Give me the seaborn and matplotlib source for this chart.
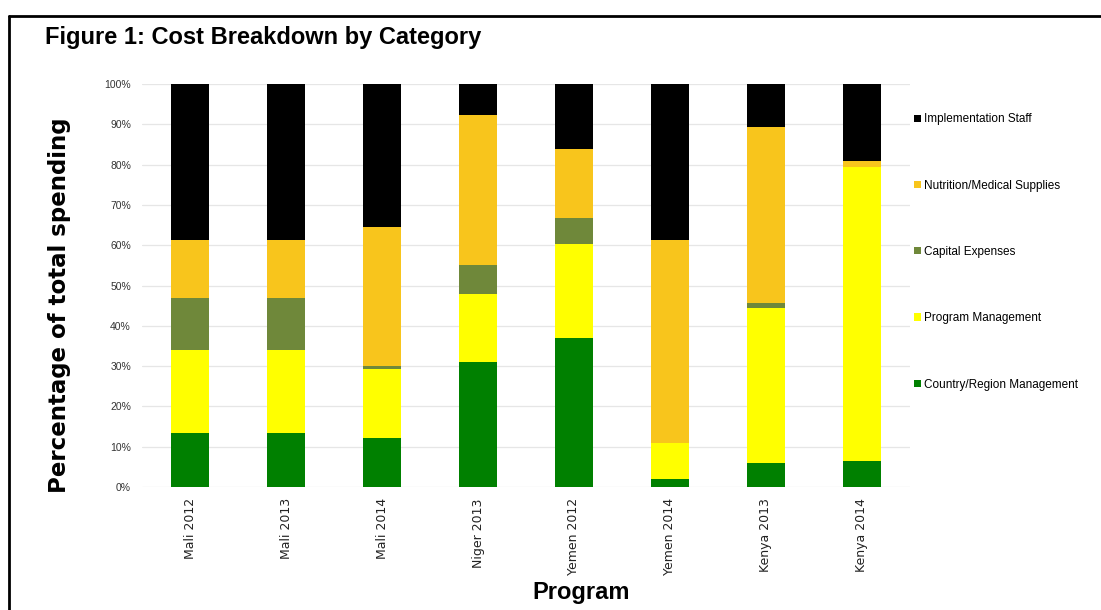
import matplotlib
matplotlib.use("Agg")
import matplotlib.pyplot as plt
from matplotlib.lines import Line2D
from matplotlib.patches import Patch
import seaborn as sns
import pandas as pd
import numpy as np

programs = ["Mali 2012", "Mali 2013", "Mali 2014", "Niger 2013",
            "Yemen 2012", "Yemen 2014", "Kenya 2013", "Kenya 2014"]
country_region_mgmt = [13.5, 13.5, 12.2, 31.0, 37.1, 1.9, 6.0, 6.5]
program_mgmt = [20.6, 20.6, 17.2, 17.0, 23.2, 9.0, 38.5, 72.8]
capital_expenses = [12.8, 12.8, 0.6, 7.2, 6.5, 0.0, 1.2, 0.0]
nutrition_medical = [14.5, 14.5, 34.5, 37.1, 17.0, 50.3, 43.6, 1.6]
implementation_staff = [38.6, 38.6, 35.5, 7.7, 16.2, 38.8, 10.7, 19.1]

categories = ["Country/Region Management", "Program Management", "Capital Expenses",
              "Nutrition/Medical Supplies", "Implementation Staff"]
series = [country_region_mgmt, program_mgmt, capital_expenses,
          nutrition_medical, implementation_staff]
colors = ["#008000", "#FFFF00", "#6F883A", "#F8C51C", "#000000"]
yticks = [0, 10, 20, 30, 40, 50, 60, 70, 80, 90, 100]
ytick_labels = [f"{v}%" for v in yticks]

sns.set_theme(style="white")
plt.rcParams['font.family'] = ['Liberation Sans', 'DejaVu Sans']
plt.rcParams['text.color'] = 'black'

fig = plt.figure(figsize=(11.01, 6.10), dpi=100)
ax = fig.add_axes([0.129, 0.2016, 0.6975, 0.6607])

rows = []
for cat, vals in zip(categories, series):
    for p, v in zip(programs, vals):
        rows.append({"Program": p, "Category": cat, "Value": v})
df = pd.DataFrame(rows)

bottom = np.zeros(len(programs))
for cat, col in zip(categories, colors):
    sub = df[df["Category"] == cat].set_index("Program").loc[programs].reset_index()
    sns.barplot(data=sub, x="Program", y="Value", color=col, ax=ax, width=0.4,
                bottom=bottom, saturation=1, linewidth=0, order=programs, zorder=3)
    bottom = bottom + sub["Value"].to_numpy()

ax.set_xlim(-0.5, 7.5)
ax.set_ylim(0, 100)
ax.set_yticks(yticks)
ax.set_yticklabels(ytick_labels)
ax.yaxis.grid(True, color="#e6e6e6", linewidth=0.9, zorder=0)
ax.xaxis.grid(False)
for s in ax.spines.values():
    s.set_visible(False)
ax.tick_params(axis="y", length=0, pad=8, labelsize=7.5, labelcolor="#333333")
ax.tick_params(axis="x", length=0, pad=8, labelsize=9, labelcolor="#222222")
for lbl in ax.get_xticklabels():
    lbl.set_rotation(90)
    lbl.set_va("top")
    lbl.set_ha("center")
    lbl.set_family(['DejaVu Sans'])

ax.set_xlabel("")
ax.set_ylabel("")
fig.text(0.528, 0.0295, "Program", ha="center", va="center",
         fontsize=17, fontweight="bold", color="black")
fig.text(0.054, 0.5, "Percentage of total spending", rotation=90, ha="center", va="center",
         fontsize=16.5, fontweight="bold", family=['DejaVu Sans'], color="black")

fig.text(0.041, 0.938, "Figure 1: Cost Breakdown by Category", ha="left", va="center",
         fontsize=17, fontweight="bold", color="black")

handles = [Patch(facecolor=c, edgecolor="none", label=l)
           for l, c in zip(categories[::-1], colors[::-1])]
leg = fig.legend(handles=handles, loc="upper left", bbox_to_anchor=(0.826, 0.822),
                 frameon=False, fontsize=8.5, handlelength=0.55, handleheight=0.55,
                 handletextpad=0.25, labelspacing=4.6, borderaxespad=0)

# frame lines
fig.add_artist(Line2D([0.0085, 1.0], [0.974, 0.974], transform=fig.transFigure,
                      color="black", linewidth=2))
fig.add_artist(Line2D([0.0085, 0.0085], [0.0, 0.974], transform=fig.transFigure,
                      color="black", linewidth=2))

fig.savefig("out.png", dpi=100)
